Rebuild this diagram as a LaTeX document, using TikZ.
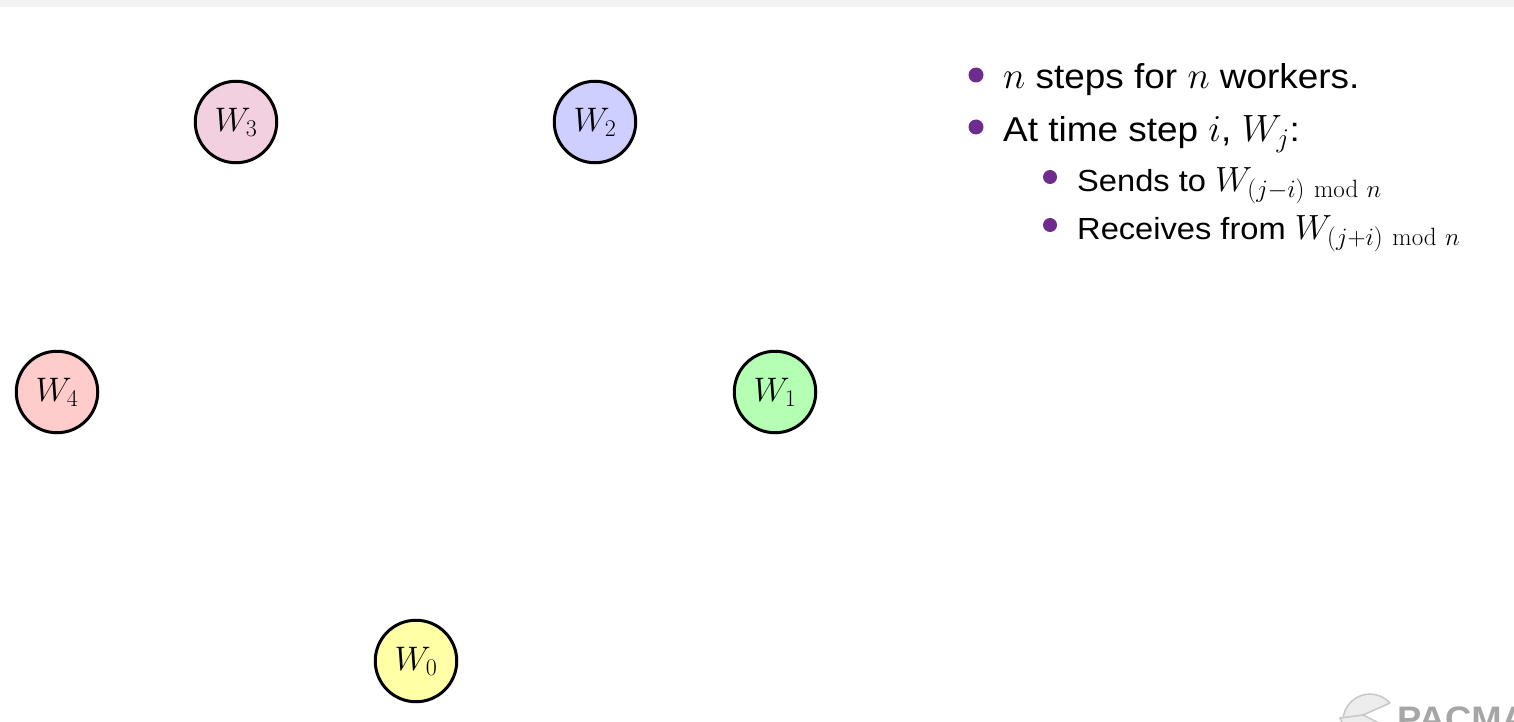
\documentclass[tikz,border=0pt]{standalone}
\usepackage{fix-cm}
\usepackage[no-math]{fontspec}
\setmainfont{Liberation Sans}[FakeStretch=1.07]
\DeclareMathSizes{34.5}{38}{27}{19}
\DeclareMathSizes{30.5}{35}{25}{18}
\DeclareMathSizes{34}{34}{24}{17}
\newcommand{\mymod}{\mkern7mu\mathrm{mod}\mkern6mu}
\definecolor{bulletc}{HTML}{6F2C8F}
\tikzset{
  worker/.style={circle,draw=black,line width=3pt,minimum size=81.5pt,inner sep=0pt,font=\fontsize{34}{38}\selectfont},
  line/.style={anchor=base west,inner sep=0pt,text=black,font=\fontsize{34.5}{40}\selectfont},
  subline/.style={anchor=base west,inner sep=0pt,text=black,font=\fontsize{30.5}{36}\selectfont},
  bigdot/.style={circle,fill=bulletc,inner sep=0pt,minimum size=15pt},
  smalldot/.style={circle,fill=bulletc,inner sep=0pt,minimum size=14pt},
}
\begin{document}
\begin{tikzpicture}[x=1pt,y=-1pt]
\useasboundingbox (0,0) rectangle (1514,722);
\fill[white] (0,0) rectangle (1514,722);
\fill[black!5] (0,0) rectangle (1514,7);
\node[worker,fill={rgb,255:red,242;green,208;blue,224}] (w3) at (236,122) {$W_3$};
\node[worker,fill={rgb,255:red,207;green,207;blue,255}] (w2) at (595,122) {$W_2$};
\node[worker,fill={rgb,255:red,181;green,255;blue,181}] (w1) at (775,392) {$W_1$};
\node[worker,fill={rgb,255:red,255;green,204;blue,204}] (w4) at (57,392) {$W_4$};
\node[worker,fill={rgb,255:red,255;green,255;blue,166}] (w0) at (416,661) {$W_0$};
\node[bigdot] (b1) at (976,75) {};
\node[bigdot] (b2) at (976,127) {};
\node[smalldot] (b3) at (1050,177) {};
\node[smalldot] (b4) at (1050,225) {};
\node[line] (t1) at (1003,89) {$n$ steps for $n$ workers.};
\node[line] (t2) at (1003,142) {At time step $i$, $W_j$:};
\node[subline] (t3) at (1077,191) {Sends to $W_{(j-i)\mymod n}$};
\node[subline] (t4) at (1077,239) {Receives from $W_{(j+i)\mymod n}$};
\begin{scope}
\clip (0,0) rectangle (1514,722);
\draw[black!22,fill=black!7,line width=1.5pt,line join=round]
  (1390,703) arc[start angle=-42,end angle=-300,radius=27] -- (1363,715) -- (1390,703);
\draw[black!22,fill=black!7,line width=1.5pt] (1363,715) -- (1385,726) -- (1350,740) -- (1340,718) -- cycle;
\node[anchor=base west,inner sep=0pt,text=black!35,font=\fontsize{34}{40}\selectfont\bfseries] (logo) at (1397,730) {PACMA};
\end{scope}
\end{tikzpicture}
\end{document}
